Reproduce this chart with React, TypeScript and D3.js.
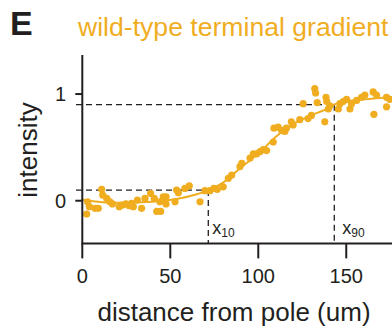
import React from "react";
import * as d3 from "d3";

const distance = [2.5, 4.0, 3.0, 7.2, 9.1, 11.0, 11.6, 13.9, 15.7, 17.1, 21.0, 22.9, 24.8, 26.7, 28.0, 29.0, 31.3, 33.7, 35.6, 38.8, 40.9, 42.3, 44.5, 44.1, 46.0, 47.6, 47.6, 52.7, 53.6, 54.6, 58.3, 60.8, 66.9, 69.7, 72.5, 74.8, 76.7, 80.1, 83.0, 84.9, 89.6, 90.6, 95.3, 97.2, 99.1, 101.0, 102.8, 104.7, 108.5, 108.9, 111.3, 113.2, 115.1, 116.0, 118.8, 119.8, 123.6, 125.5, 128.3, 130.2, 132.1, 132.6, 133.5, 137.8, 138.5, 138.9, 139.8, 140.7, 145.5, 146.4, 148.3, 150.2, 152.1, 153.0, 155.9, 158.7, 160.6, 165.3, 165.7, 167.2, 172.9, 172.9, 174.8];
const intensity = [-0.125, -0.056, -0.01, -0.071, -0.071, 0.107, 0.053, 0.022, -0.01, -0.03, -0.056, -0.04, -0.03, -0.046, -0.025, -0.056, 0.006, -0.071, 0.022, 0.069, 0.022, -0.1, -0.1, -0.01, 0.037, -0.03, 0.037, -0.01, 0.1, 0.075, 0.115, 0.14, -0.01, 0.094, 0.094, 0.115, 0.107, 0.13, 0.21, 0.24, 0.32, 0.35, 0.4, 0.44, 0.44, 0.46, 0.48, 0.47, 0.55, 0.68, 0.69, 0.66, 0.65, 0.68, 0.74, 0.71, 0.76, 0.91, 0.77, 0.8, 1.05, 1.01, 0.92, 0.74, 0.97, 0.93, 0.86, 0.89, 0.86, 0.91, 0.93, 0.95, 0.86, 0.91, 0.94, 0.97, 0.99, 1.02, 0.81, 0.99, 0.97, 0.88, 0.95];

const fitX = [0, 20, 40, 55, 65, 72, 80, 90, 100, 110, 120, 130, 140, 143, 150, 160, 176];
const fitY = [0.01, -0.02, -0.01, 0.02, 0.06, 0.1, 0.17, 0.31, 0.44, 0.6, 0.72, 0.8, 0.87, 0.9, 0.93, 0.95, 0.97];

const xTicks = [0, 50, 100, 150];
const yTicks = [0, 1];
const x10 = 71.6;
const x90 = 143.2;
const level10 = 0.1;
const level90 = 0.9;

const ORANGE = "#EFAD1F";
const INK = "#231F20";

export default function App() {
  const x = d3.scaleLinear().domain([0, 176]).range([82.3, 392]);
  const y = d3.scaleLinear().domain([-0.4, 1.366]).range([243.4, 55]);
  const line = d3
    .line<number>()
    .x((_, i) => x(fitX[i]))
    .y((d) => y(d))
    .curve(d3.curveMonotoneX);
  const font = "'Liberation Sans', Arial, sans-serif";
  return (
    <svg width={392} height={333} style={{ position: "absolute", left: 0, top: 0 }} fontFamily={font}>
      <rect width={392} height={333} fill="#fff" />
      <text x={10} y={35} fontSize={34} fontWeight="bold" fill={INK}>E</text>
      <text x={78} y={36} fontSize={26.6} fill={ORANGE}>wild-type terminal gradient</text>

      {/* dashed guides */}
      <g stroke={INK} strokeWidth={1.3} strokeDasharray="6,4" fill="none">
        <line x1={76} x2={x(x10)} y1={y(level10)} y2={y(level10)} />
        <line x1={x(x10)} x2={x(x10)} y1={y(level10)} y2={y(-0.4)} />
        <line x1={76} x2={x(x90)} y1={y(level90)} y2={y(level90)} />
        <line x1={x(x90)} x2={x(x90)} y1={y(level90)} y2={y(-0.4)} />
      </g>

      {distance.map((d, i) => (
        <circle key={i} cx={x(d)} cy={y(intensity[i])} r={3.6} fill={ORANGE} />
      ))}
      <path d={line(fitY) || ""} fill="none" stroke={ORANGE} strokeWidth={2} />

      {/* axes */}
      <line x1={x(0)} x2={x(0)} y1={55} y2={y(-0.4)} stroke={INK} strokeWidth={2} />
      <line x1={x(0) - 1} x2={392} y1={y(-0.4)} y2={y(-0.4)} stroke={INK} strokeWidth={2} />
      {yTicks.map((t) => (
        <g key={t}>
          <line x1={x(0) - 7} x2={x(0)} y1={y(t)} y2={y(t)} stroke={INK} strokeWidth={2} />
          <text x={66} y={y(t)} dy="0.35em" textAnchor="end" fontSize={20} fill={INK}>{t}</text>
        </g>
      ))}
      {xTicks.map((t) => (
        <g key={t}>
          <line x1={x(t)} x2={x(t)} y1={y(-0.4)} y2={y(-0.4) + 15} stroke={INK} strokeWidth={2} />
          <text x={x(t)} y={283} textAnchor="middle" fontSize={20} fill={INK}>{t}</text>
        </g>
      ))}

      <text x={x(x10) + 4} y={234} fontSize={18} fill={INK}>x<tspan fontSize={12} dy={3}>10</tspan></text>
      <text x={x(x90) + 8} y={234} fontSize={18} fill={INK}>x<tspan fontSize={12} dy={3}>90</tspan></text>

      <text transform="translate(37,150) rotate(-90)" textAnchor="middle" fontSize={26} fill={INK}>intensity</text>
      <text x={234} y={321} textAnchor="middle" fontSize={26} fill={INK}>distance from pole (um)</text>
    </svg>
  );
}
